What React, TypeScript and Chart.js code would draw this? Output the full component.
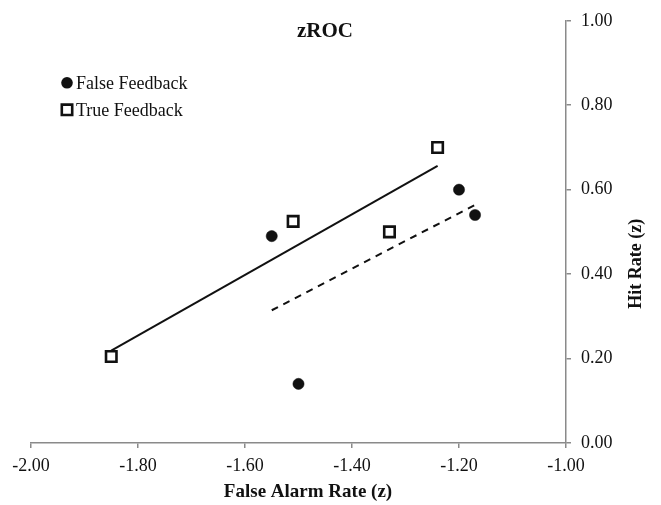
import React, { useEffect, useRef } from "react";
import { Chart, registerables } from "chart.js";

Chart.register(...registerables);

// ---- data ----
const falseFeedbackX = [-1.55, -1.5, -1.2, -1.17];
const falseFeedbackY = [0.49, 0.14, 0.6, 0.54];
const trueFeedbackX = [-1.85, -1.51, -1.33, -1.24];
const trueFeedbackY = [0.205, 0.525, 0.5, 0.7];

const seriesLabels = ["False Feedback", "True Feedback"];
const chartTitle = "zROC";
const xAxisTitle = "False Alarm Rate (z)";
const yAxisTitle = "Hit Rate (z)";
const xRange = [-2, -1];
const yRange = [0, 1];
const tickStep = 0.2;

const FONT = "'Liberation Serif', 'Times New Roman', serif";
const AXIS_GRAY = "#8a8a8a";
const INK = "#111111";

function toPoints(xs: number[], ys: number[]) {
  return xs.map((x, i) => ({ x, y: ys[i] }));
}

// least-squares trend line across the series' own x range (as Excel does)
function trend(xs: number[], ys: number[]) {
  const n = xs.length;
  const mx = xs.reduce((a, b) => a + b, 0) / n;
  const my = ys.reduce((a, b) => a + b, 0) / n;
  let sxy = 0;
  let sxx = 0;
  for (let i = 0; i < n; i++) {
    sxy += (xs[i] - mx) * (ys[i] - my);
    sxx += (xs[i] - mx) * (xs[i] - mx);
  }
  const slope = sxy / sxx;
  const x0 = Math.min(...xs);
  const x1 = Math.max(...xs);
  return [
    { x: x0, y: my + slope * (x0 - mx) },
    { x: x1, y: my + slope * (x1 - mx) },
  ];
}

const decorPlugin = {
  id: "decor",
  afterDraw(chart: any) {
    const ctx = chart.ctx as CanvasRenderingContext2D;
    const area = chart.chartArea;
    ctx.save();
    ctx.fillStyle = INK;

    // title
    ctx.font = `bold 21px ${FONT}`;
    ctx.textAlign = "center";
    ctx.textBaseline = "middle";
    ctx.fillText(chartTitle, area.left + 294, area.top + 11);

    // x axis title
    ctx.font = `bold 19px ${FONT}`;
    ctx.fillText(xAxisTitle, area.left + 277, chart.height - 13);

    // y axis title (reads bottom to top)
    ctx.font = `bold 18px ${FONT}`;
    ctx.save();
    ctx.translate(area.right + 70, area.top + 243);
    ctx.rotate(-Math.PI / 2);
    ctx.fillText(yAxisTitle, 0, 0);
    ctx.restore();

    // legend
    const lx = area.left + 36;
    const ly = area.top + 62;
    const rowGap = 27;
    ctx.font = `18px ${FONT}`;
    ctx.textAlign = "left";
    ctx.textBaseline = "middle";
    // circle
    ctx.beginPath();
    ctx.arc(lx, ly, 5.8, 0, Math.PI * 2);
    ctx.fillStyle = INK;
    ctx.fill();
    ctx.fillText(seriesLabels[0], lx + 9, ly + 1);
    // square
    ctx.beginPath();
    ctx.rect(lx - 5.2, ly + rowGap - 5.2, 10.4, 10.4);
    ctx.fillStyle = "#ffffff";
    ctx.fill();
    ctx.lineWidth = 2.6;
    ctx.strokeStyle = INK;
    ctx.stroke();
    ctx.fillStyle = INK;
    ctx.fillText(seriesLabels[1], lx + 9, ly + rowGap + 1);

    ctx.restore();
  },
};

export default function App() {
  const canvasRef = useRef<HTMLCanvasElement | null>(null);

  useEffect(() => {
    document.body.style.margin = "0";
    const canvas = canvasRef.current;
    if (!canvas) return;

    const chart = new Chart(canvas, {
      type: "scatter",
      data: {
        datasets: [
          {
            type: "line",
            label: "True trend",
            data: trend(trueFeedbackX, trueFeedbackY),
            borderColor: INK,
            borderWidth: 2,
            pointRadius: 0,
            fill: false,
            order: 3,
          } as any,
          {
            type: "line",
            label: "False trend",
            data: trend(falseFeedbackX, falseFeedbackY),
            borderColor: INK,
            borderWidth: 2,
            borderDash: [7, 6],
            pointRadius: 0,
            fill: false,
            order: 3,
          } as any,
          {
            label: seriesLabels[0],
            data: toPoints(falseFeedbackX, falseFeedbackY),
            pointStyle: "circle",
            pointRadius: 5.6,
            backgroundColor: INK,
            borderColor: INK,
            borderWidth: 0.5,
            order: 1,
          },
          {
            label: seriesLabels[1],
            data: toPoints(trueFeedbackX, trueFeedbackY),
            pointStyle: "rect",
            pointRadius: 7.4,
            backgroundColor: "#ffffff",
            borderColor: INK,
            borderWidth: 2.6,
            order: 1,
          },
        ],
      },
      options: {
        animation: false,
        responsive: false,
        maintainAspectRatio: false,
        layout: { padding: { left: 31, top: 19, right: 0, bottom: 0 } },
        plugins: {
          legend: { display: false },
          tooltip: { enabled: false },
          title: { display: false },
        },
        scales: {
          x: {
            type: "linear",
            position: "bottom",
            min: xRange[0],
            max: xRange[1],
            afterFit: (s: any) => {
              s.height = 62;
            },
            ticks: {
              stepSize: tickStep,
              padding: 7,
              color: INK,
              font: { family: FONT, size: 18 },
              callback: (v: any) => Number(v).toFixed(2),
            },
            grid: {
              drawOnChartArea: false,
              drawTicks: true,
              tickLength: 5,
              color: AXIS_GRAY,
              lineWidth: 1.5,
            },
            border: { display: true, color: AXIS_GRAY, width: 1.5 },
          },
          y: {
            type: "linear",
            position: "right",
            min: yRange[0],
            max: yRange[1],
            afterFit: (s: any) => {
              s.width = 95;
            },
            ticks: {
              stepSize: tickStep,
              padding: 10,
              color: INK,
              font: { family: FONT, size: 18 },
              callback: (v: any) => Number(v).toFixed(2),
            },
            grid: {
              drawOnChartArea: false,
              drawTicks: true,
              tickLength: 5,
              color: AXIS_GRAY,
              lineWidth: 1.5,
            },
            border: { display: true, color: AXIS_GRAY, width: 1.5 },
          },
        },
      },
      plugins: [decorPlugin],
    });

    return () => chart.destroy();
  }, []);

  return (
    <div style={{ width: 661, height: 505, background: "#ffffff" }}>
      <canvas ref={canvasRef} width={661} height={505} style={{ display: "block" }} />
    </div>
  );
}
